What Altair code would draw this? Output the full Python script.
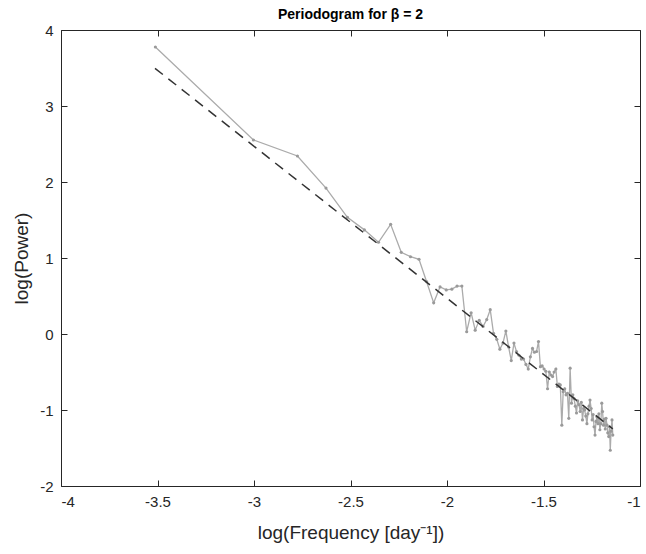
import altair as alt
import pandas as pd

log_freq = [
    -3.511, -3.003, -2.775, -2.627, -2.516, -2.428, -2.355, -2.292, -2.237, -2.189,
    -2.145, -2.106, -2.069, -2.036, -2.004, -1.975, -1.948, -1.923, -1.898, -1.875,
    -1.854, -1.833, -1.813, -1.794, -1.776, -1.759, -1.742, -1.726, -1.710, -1.695,
    -1.681, -1.667, -1.653, -1.640, -1.627, -1.615, -1.603, -1.591, -1.579, -1.568,
    -1.557, -1.547, -1.536, -1.526, -1.516, -1.507, -1.497, -1.488, -1.479, -1.470,
    -1.461, -1.453, -1.445, -1.436, -1.428, -1.420, -1.413, -1.405, -1.398, -1.390,
    -1.383, -1.376, -1.369, -1.362, -1.355, -1.348, -1.342, -1.335, -1.329, -1.323,
    -1.316, -1.310, -1.304, -1.298, -1.292, -1.287, -1.281, -1.275, -1.270, -1.264,
    -1.259, -1.253, -1.248, -1.243, -1.238, -1.233, -1.228, -1.223, -1.218, -1.213,
    -1.208, -1.203, -1.198, -1.194, -1.189, -1.185, -1.180, -1.176, -1.171, -1.167,
    -1.162, -1.158, -1.154, -1.150, -1.145, -1.141,
]
log_power = [
    3.776, 2.553, 2.342, 1.920, 1.536, 1.370, 1.207, 1.443, 1.075, 1.017,
    0.983, 0.690, 0.410, 0.620, 0.580, 0.590, 0.630, 0.630, 0.030, 0.280,
    0.050, 0.180, 0.100, 0.190, 0.320, 0.010, -0.070, -0.200, -0.120, 0.040,
    -0.170, -0.350, -0.120, -0.230, -0.280, -0.330, -0.330, -0.400, -0.460, -0.300,
    -0.190, -0.240, -0.230, -0.100, -0.430, -0.420, -0.460, -0.490, -0.720, -0.500,
    -0.540, -0.560, -0.500, -0.460, -0.690, -0.660, -0.670, -1.200, -0.760, -0.720,
    -0.800, -0.780, -1.110, -0.450, -0.910, -0.800, -0.850, -0.950, -1.040, -0.880,
    -0.930, -1.020, -0.900, -1.130, -0.980, -1.000, -1.080, -1.180, -1.050, -0.950,
    -0.870, -0.980, -1.130, -1.060, -1.220, -1.330, -1.150, -1.090, -1.180, -1.050,
    -1.260, -1.180, -0.910, -1.020, -1.200, -1.120, -1.250, -1.110, -1.200, -1.300,
    -1.350, -1.220, -1.530, -1.280, -1.130, -1.330,
]
trend_log_freq = [-3.513, -1.141]
trend_log_power = [3.496, -1.248]
x_ticks = [-4, -3.5, -3, -2.5, -2, -1.5, -1]
y_ticks = [-2, -1, 0, 1, 2, 3, 4]

df = pd.DataFrame({"f": log_freq, "p": log_power})
tdf = pd.DataFrame({"f": trend_log_freq, "p": trend_log_power})

FONT = "Liberation Sans"
AX = "#262626"
xs = alt.Scale(domain=[-4, -1], nice=False, zero=False)
ys = alt.Scale(domain=[-2, 4], nice=False, zero=False)


def tick_axis(orient):
    return alt.Axis(orient=orient, values=x_ticks if orient in ("top", "bottom") else y_ticks,
                    labels=False, domain=False, grid=False, title=None,
                    ticks=True, tickSize=6, tickColor=AX, tickWidth=1, offset=-6)


main = alt.Chart(df).mark_line(
    color="#ababab", strokeWidth=1.3,
    point=alt.OverlayMarkDef(filled=True, size=10, color="#9a9a9a", opacity=1),
).encode(
    x=alt.X("f:Q", scale=xs, axis=alt.Axis(
        orient="bottom", values=x_ticks, title="log(Frequency [day⁻¹])", ticks=False,
        domain=False, grid=False, labelExpr="toString(datum.value)", labelFont=FONT,
        labelFontSize=15, labelColor=AX, labelPadding=8, titleFont=FONT, titleFontSize=19,
        titleFontWeight="normal", titleColor=AX, titlePadding=14)),
    y=alt.Y("p:Q", scale=ys, axis=alt.Axis(
        orient="left", values=y_ticks, title="log(Power)", ticks=False, domain=False,
        grid=False, labelExpr="toString(datum.value)", labelFont=FONT, labelFontSize=15,
        labelColor=AX, labelPadding=8, titleFont=FONT, titleFontSize=19,
        titleFontWeight="normal", titleColor=AX, titlePadding=8)),
    order="f:Q",
)

trend = alt.Chart(tdf).mark_line(
    color="#333333", strokeWidth=1.5, strokeDash=[10, 7]
).encode(
    x=alt.X("f:Q", scale=xs, axis=tick_axis("bottom")),
    y=alt.Y("p:Q", scale=ys, axis=tick_axis("left")),
)

frame = alt.Chart(tdf).mark_point(opacity=0).encode(
    x=alt.X("f:Q", scale=xs, axis=tick_axis("top")),
    y=alt.Y("p:Q", scale=ys, axis=tick_axis("right")),
)

chart = alt.layer(main, trend, frame).resolve_axis(
    x="independent", y="independent"
).properties(
    width=579, height=456,
    title=alt.TitleParams("Periodogram for β = 2", font=FONT, fontSize=14,
                          fontWeight="bold", color="black", anchor="middle", offset=1),
    autosize=alt.AutoSizeParams(type="none"),
    padding={"left": 61, "top": 30, "right": 6, "bottom": 68},
    background="white",
).configure_view(stroke=AX, strokeWidth=1)

chart.save("out.html", embed_options={"renderer": "svg", "actions": False})
